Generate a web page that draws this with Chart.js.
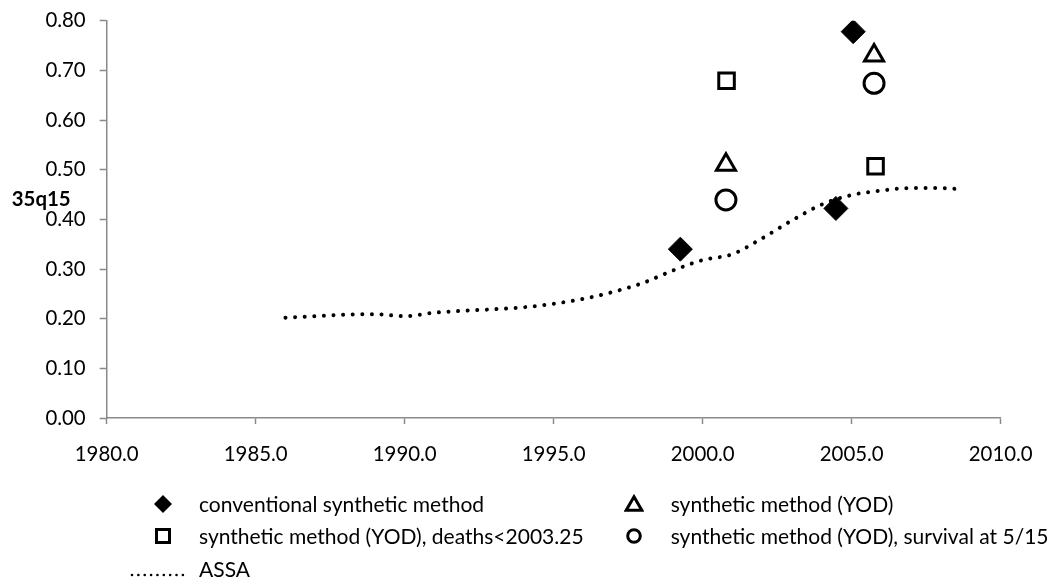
<!DOCTYPE html>
<html>
<head>
<meta charset="utf-8">
<script src="https://cdn.jsdelivr.net/npm/chart.js@4/dist/chart.umd.min.js"></script>
<style>
  html, body { margin: 0; padding: 0; background: #fff; }
  #wrap { position: relative; width: 1058px; height: 581px; overflow: hidden; }
  #c { position: absolute; left: 0; top: 0; }
  .lg { position: absolute; white-space: nowrap; color: #000; font-family: "Lato", "Open Sans", sans-serif; }
  .mk { position: absolute; }
  #ytitle { position: absolute; font-family: "Lato", "Open Sans", sans-serif; font-weight: bold; color: #000; white-space: nowrap; }
</style>
</head>
<body>
<div id="wrap">
  <canvas id="c" width="1058" height="581"></canvas>
  <div id="ytitle">35q15</div>
</div>
<script>
// ---------- data ----------
const xTickMin = 1980, xTickMax = 2010, xStep = 5;
const yTickMin = 0, yTickMax = 0.8, yStep = 0.1;

const convYears  = [1999.25, 2004.47, 2005.05];
const convValues = [0.340, 0.422, 0.778];

const yodYears  = [2000.78, 2005.75];
const yodValues = [0.51, 0.73];

const yodDeathsYears  = [2000.8, 2005.8];
const yodDeathsValues = [0.679, 0.507];

const yodSurvYears  = [2000.78, 2005.75];
const yodSurvValues = [0.439, 0.674];

const assaYears  = [1986, 1987, 1988, 1989, 1990, 1991, 1992, 1993, 1994, 1995, 1996, 1997,
                    1998, 1999, 2000, 2001, 2002, 2003, 2004, 2005, 2006, 2007, 2008, 2008.75];
const assaValues = [0.202, 0.205, 0.208, 0.209, 0.205, 0.212, 0.216, 0.219, 0.223, 0.230, 0.240, 0.254,
                    0.272, 0.297, 0.318, 0.330, 0.362, 0.398, 0.430, 0.449, 0.458, 0.463, 0.463, 0.460];

const seriesNames = [
  "conventional synthetic method",
  "synthetic method (YOD)",
  "synthetic method (YOD), deaths<2003.25",
  "synthetic method (YOD), survival at 5/15",
  "ASSA"
];
const yTitle = "35q15";

// ---------- helpers ----------
function pts(xs, ys) { return xs.map((x, i) => ({ x: x, y: ys[i] })); }
const measureCtx = document.createElement('canvas').getContext('2d');
function fitSize(text, weight, target) {
  measureCtx.font = weight + ' 100px "Lato", "Open Sans", sans-serif';
  return 100 * target / measureCtx.measureText(text).width;
}
const tickSize = fitSize('1980.0', 'normal', 64);
const legendSize = fitSize(seriesNames[3], 'normal', 378);
const titleSize = fitSize(yTitle, 'bold', 59);

// ---------- layout constants ----------
const AREA_LEFT = 106.7, AREA_TOP = 20.7, AREA_RIGHT = 1000.7, AREA_BOTTOM = 418;
const W = 1058, H = 581;
const axisGray = '#8a8a8a';

// ---------- chart ----------
const ctx = document.getElementById('c').getContext('2d');
const chart = new Chart(ctx, {
  type: 'scatter',
  data: {
    datasets: [
      {
        label: seriesNames[4],
        data: pts(assaYears, assaValues),
        showLine: true,
        borderColor: '#000',
        borderWidth: 4,
        borderDash: [0.01, 9.6],
        borderCapStyle: 'round',
        cubicInterpolationMode: 'monotone',
        pointRadius: 0,
        fill: false
      },
      {
        label: seriesNames[0],
        data: pts(convYears, convValues),
        pointStyle: 'rectRot',
        pointRadius: 12,
        backgroundColor: '#000',
        borderColor: '#000',
        borderWidth: 1
      },
      {
        label: seriesNames[1],
        data: pts(yodYears, yodValues),
        pointStyle: 'triangle',
        pointRadius: 11,
        backgroundColor: '#fff',
        borderColor: '#000',
        borderWidth: 3
      },
      {
        label: seriesNames[2],
        data: pts(yodDeathsYears, yodDeathsValues),
        pointStyle: 'rect',
        pointRadius: 11,
        backgroundColor: '#fff',
        borderColor: '#000',
        borderWidth: 3
      },
      {
        label: seriesNames[3],
        data: pts(yodSurvYears, yodSurvValues),
        pointStyle: 'circle',
        pointRadius: 10,
        backgroundColor: '#fff',
        borderColor: '#000',
        borderWidth: 3
      }
    ]
  },
  options: {
    responsive: false,
    animation: false,
    devicePixelRatio: 1,
    layout: { padding: { left: 0, top: AREA_TOP, right: W - AREA_RIGHT, bottom: 0 } },
    plugins: { legend: { display: false }, tooltip: { enabled: false }, title: { display: false } },
    elements: { point: { hoverRadius: 0 } },
    scales: {
      x: {
        type: 'linear',
        min: xTickMin, max: xTickMax,
        afterFit: (s) => { s.height = H - AREA_BOTTOM; s.paddingLeft = 0; s.paddingRight = 0; },
        ticks: {
          stepSize: xStep,
          color: '#000',
          font: { family: '"Lato", "Open Sans", sans-serif', size: tickSize },
          padding: 18,
          maxRotation: 0,
          callback: (v) => Number(v).toFixed(1)
        },
        grid: { display: true, drawOnChartArea: false, drawTicks: true, tickLength: 6, tickColor: axisGray, tickWidth: 1.5 },
        border: { display: true, color: axisGray, width: 1.5 }
      },
      y: {
        type: 'linear',
        min: yTickMin, max: yTickMax,
        afterFit: (s) => { s.width = AREA_LEFT; s.paddingTop = 0; s.paddingBottom = 0; },
        ticks: {
          stepSize: yStep,
          color: '#000',
          font: { family: '"Lato", "Open Sans", sans-serif', size: tickSize },
          padding: 14,
          callback: (v) => Number(v).toFixed(2)
        },
        grid: { display: true, drawOnChartArea: false, drawTicks: true, tickLength: 7, tickColor: axisGray, tickWidth: 1.5 },
        border: { display: true, color: axisGray, width: 1.5 }
      }
    }
  }
});

// ---------- y title (horizontal) ----------
const yt = document.getElementById('ytitle');
yt.style.fontSize = titleSize + 'px';
yt.style.lineHeight = '30px';
yt.style.left = '11.7px';
yt.style.top = (197.7 - 15) + 'px';

// ---------- legend (HTML) ----------
const wrap = document.getElementById('wrap');
const rowsY = [504, 536, 569];
const colMarkX = [162.7, 634];
const colTextX = [199, 670.7];
const legendItems = [
  { name: seriesNames[0], col: 0, row: 0, svg: '<polygon points="10,1 19,10 10,19 1,10" fill="#000"/>' },
  { name: seriesNames[1], col: 1, row: 0, svg: '<polygon points="10,2.8 17.8,16.3 2.2,16.3" fill="none" stroke="#000" stroke-width="3"/>' },
  { name: seriesNames[2], col: 0, row: 1, svg: '<rect x="3.5" y="3.5" width="13" height="13" fill="none" stroke="#000" stroke-width="3"/>' },
  { name: seriesNames[3], col: 1, row: 1, svg: '<circle cx="10" cy="10" r="6.3" fill="none" stroke="#000" stroke-width="3"/>' }
];
legendItems.forEach(it => {
  const m = document.createElement('div');
  m.className = 'mk';
  m.style.left = (colMarkX[it.col] - 10) + 'px';
  m.style.top = (rowsY[it.row] - 10) + 'px';
  m.innerHTML = '<svg width="20" height="20" viewBox="0 0 20 20">' + it.svg + '</svg>';
  wrap.appendChild(m);
  const t = document.createElement('div');
  t.className = 'lg';
  t.textContent = it.name;
  t.style.fontSize = legendSize + 'px';
  t.style.lineHeight = '30px';
  t.style.left = colTextX[it.col] + 'px';
  t.style.top = (rowsY[it.row] - 15) + 'px';
  wrap.appendChild(t);
});
// ASSA legend entry
const lm = document.createElement('div');
lm.className = 'mk';
lm.style.left = '130px';
lm.style.top = (rowsY[2] - 4) + 'px';
lm.innerHTML = '<svg width="56" height="8" viewBox="0 0 56 8"><line x1="2" y1="4" x2="53" y2="4" stroke="#000" stroke-width="2.6" stroke-linecap="round" stroke-dasharray="0.01 6.35"/></svg>';
wrap.appendChild(lm);
const lt = document.createElement('div');
lt.className = 'lg';
lt.textContent = seriesNames[4];
lt.style.fontSize = legendSize + 'px';
lt.style.lineHeight = '30px';
lt.style.left = colTextX[0] + 'px';
lt.style.top = (rowsY[2] - 15) + 'px';
wrap.appendChild(lt);
</script>
</body>
</html>
